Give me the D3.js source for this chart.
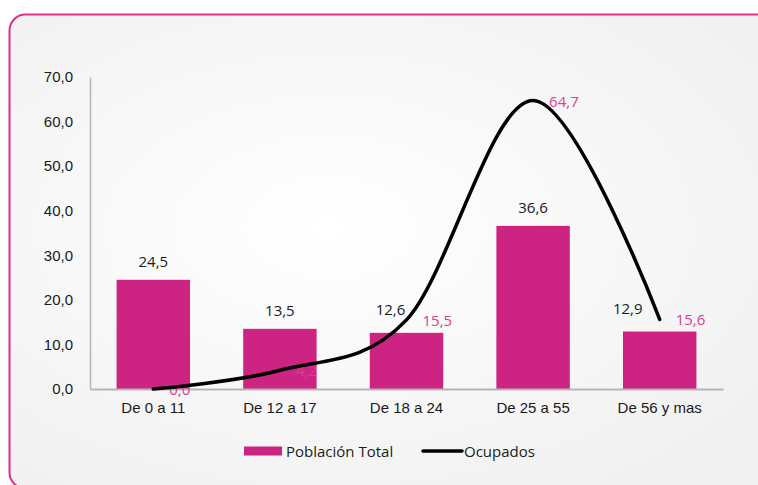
<!DOCTYPE html>
<html>
<head>
<meta charset="utf-8">
<script src="https://cdn.jsdelivr.net/npm/d3@7"></script>
<style>
  body { margin: 0; background: #fff; }
  svg { display: block; font-family: "Open Sans", "Noto Sans", sans-serif; }
</style>
</head>
<body>
<div id="chart"></div>
<script>
// Data
const categories = ['De 0 a 11', 'De 12 a 17', 'De 18 a 24', 'De 25 a 55', 'De 56 y mas'];
const poblacionTotal = [24.5, 13.5, 12.6, 36.6, 12.9];
const ocupados = [0.0, 4.2, 15.5, 64.7, 15.6];
const yTicks = [0, 10, 20, 30, 40, 50, 60, 70];
const seriesNames = ['Población Total', 'Ocupados'];

const W = 758, H = 485;
const pink = '#cd2382';
const labelPink = '#d8408f';
const fontSize = '15px';
const fmt = v => d3.format('.1f')(v).replace('.', ',');

// bar label nudges where the line labels sit close by
const barLabelNudge = [[0, 0], [0, 0], [-16, -5], [0, 0], [-32, -5]];

const svg = d3.select('#chart').append('svg')
  .attr('width', W)
  .attr('height', H);

// Background gradient
const defs = svg.append('defs');
const grad = defs.append('radialGradient')
  .attr('id', 'bg')
  .attr('cx', '40%').attr('cy', '45%').attr('r', '65%');
grad.append('stop').attr('offset', '0%').attr('stop-color', '#ffffff');
grad.append('stop').attr('offset', '100%').attr('stop-color', '#f1f1f1');

// Frame (bottom and right edges run off the picture)
svg.append('rect')
  .attr('x', 9.5).attr('y', 14.5)
  .attr('width', 800).attr('height', 474)
  .attr('rx', 16)
  .attr('fill', 'url(#bg)')
  .attr('stroke', '#dd2f88')
  .attr('stroke-width', 2);

// Scales
const x = d3.scaleBand()
  .domain(categories)
  .range([90, 723])
  .paddingInner(0.42)
  .paddingOuter(0.21);

const y = d3.scaleLinear()
  .domain([0, 70])
  .range([389, 77]);

// Y axis
const yAxis = svg.append('g')
  .attr('transform', 'translate(90,0)')
  .call(d3.axisLeft(y).tickValues(yTicks).tickSize(0).tickPadding(17).tickFormat(fmt));
yAxis.select('.domain').attr('stroke', '#b5b5b5').attr('stroke-width', 1.5);
yAxis.selectAll('text')
  .attr('fill', '#1a1a1a')
  .style('font-size', fontSize);

// Bars
svg.selectAll('.bar')
  .data(poblacionTotal)
  .enter()
  .append('rect')
  .attr('class', 'bar')
  .attr('x', (d, i) => x(categories[i]))
  .attr('y', d => y(d))
  .attr('width', x.bandwidth())
  .attr('height', d => y(0) - y(d))
  .attr('fill', pink);

// X axis
const xAxis = svg.append('g')
  .attr('transform', 'translate(0,389)')
  .call(d3.axisBottom(x).tickSize(0).tickPadding(13));
xAxis.select('.domain').attr('stroke', '#b5b5b5').attr('stroke-width', 2);
xAxis.selectAll('text')
  .attr('fill', '#1a1a1a')
  .style('font-size', fontSize);

// Bar value labels
svg.selectAll('.bar-label')
  .data(poblacionTotal)
  .enter()
  .append('text')
  .attr('class', 'bar-label')
  .attr('x', (d, i) => x(categories[i]) + x.bandwidth() / 2 + barLabelNudge[i][0])
  .attr('y', (d, i) => y(d) - 13 + barLabelNudge[i][1])
  .attr('text-anchor', 'middle')
  .attr('fill', '#1a1a1a')
  .style('font-size', fontSize)
  .text(d => fmt(d));

// Line value labels (drawn under the line)
svg.selectAll('.line-label')
  .data(ocupados)
  .enter()
  .append('text')
  .attr('class', 'line-label')
  .attr('x', (d, i) => x(categories[i]) + x.bandwidth() / 2 + 16)
  .attr('y', d => y(d) + 6)
  .attr('fill', labelPink)
  .style('font-size', fontSize)
  .text(d => fmt(d));

// Smoothed line
const line = d3.line()
  .x((d, i) => x(categories[i]) + x.bandwidth() / 2)
  .y(d => y(d))
  .curve(d3.curveCardinal.tension(0));

svg.append('path')
  .datum(ocupados)
  .attr('d', line)
  .attr('fill', 'none')
  .attr('stroke', '#000')
  .attr('stroke-width', 3.5)
  .attr('stroke-linecap', 'round');

// Legend
const legend = svg.append('g').attr('transform', 'translate(244,451)');
legend.append('rect')
  .attr('x', 0).attr('y', -4.5)
  .attr('width', 38).attr('height', 9)
  .attr('fill', pink);
legend.append('text')
  .attr('x', 42).attr('y', 5.5)
  .attr('fill', '#1a1a1a')
  .style('font-size', fontSize)
  .text(seriesNames[0]);
legend.append('line')
  .attr('x1', 179).attr('x2', 218)
  .attr('y1', 0).attr('y2', 0)
  .attr('stroke', '#000')
  .attr('stroke-width', 3.5)
  .attr('stroke-linecap', 'round');
legend.append('text')
  .attr('x', 220).attr('y', 5.5)
  .attr('fill', '#1a1a1a')
  .style('font-size', fontSize)
  .text(seriesNames[1]);
</script>
</body>
</html>
